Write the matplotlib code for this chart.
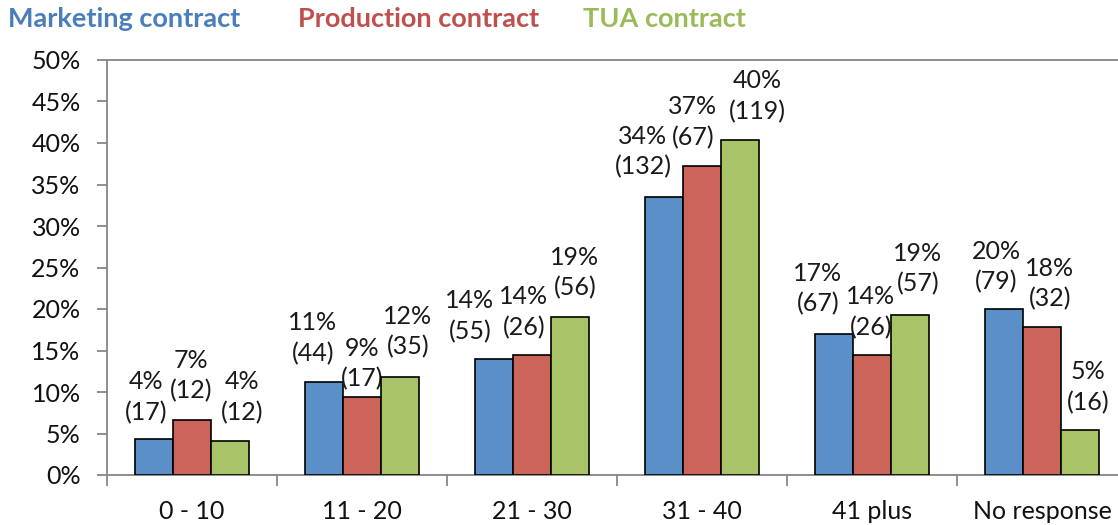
"""
Age distribution of respondents by contract type: grouped bars with
percentage and count labels.
"""

import numpy as np
import matplotlib.pyplot as plt
from matplotlib.ticker import FuncFormatter, FixedLocator

plt.rcParams['font.family'] = ['Lato', 'DejaVu Sans']

age_groups = ['0 - 10', '11 - 20', '21 - 30', '31 - 40', '41 plus', 'No response']
series_names = ['Marketing contract', 'Production contract', 'TUA contract']

# respondent counts per age group
marketing_counts = [17, 44, 55, 132, 67, 79]
production_counts = [12, 17, 26, 67, 26, 32]
tua_counts = [12, 35, 56, 119, 57, 16]

bar_colors = ['#5B8FC7', '#CB6459', '#A9C368']
title_colors = ['#4A7EBB', '#C0504D', '#9BBB59']

# hand-placed label nudges (pixels): x shift from bar centre, rise of the
# count line above the bar top
label_dx = [
    [-8, -11, -24, -21, -16, -8],
    [-1, 0, -8, -9, -1, 8],
    [12, 8, 5, 17, 8, 8],
]
label_rise = [
    [26, 28, 27, 29, 29, 26],
    [28, 17, 27, 28, 27, 28],
    [28, 29, 29, 28, 30, 27],
]

W, H, DPI = 1118, 525, 100
px = 72 / DPI  # points per pixel

fig = plt.figure(figsize=(W / DPI, H / DPI), dpi=DPI)
ax = fig.add_axes([107 / W, 50 / H, (1127 - 107) / W, (475 - 60) / H])

x = np.arange(len(age_groups))
bw = 0.2235
axis_gray = '#868686'

all_counts = [marketing_counts, production_counts, tua_counts]
for i, counts in enumerate(all_counts):
    counts = np.array(counts)
    pct = counts / counts.sum() * 100
    xs = x + (i - 1) * bw
    ax.bar(xs, pct, width=bw, color=bar_colors[i], edgecolor='black',
           linewidth=1.2, zorder=3)
    for j in range(len(age_groups)):
        label = f"{pct[j]:.0f}%\n({counts[j]})"
        ax.annotate(label, (xs[j], pct[j]),
                    xytext=(label_dx[i][j] * px, (label_rise[i][j] + 16) * px),
                    textcoords='offset points', ha='center', va='center',
                    fontsize=18, color='#1a1a1a', linespacing=1.38)

ax.set_xlim(-0.5, len(age_groups) - 0.5)
ax.set_ylim(0, 50)

ax.yaxis.set_major_locator(FixedLocator(np.arange(0, 51, 5)))
ax.yaxis.set_major_formatter(FuncFormatter(lambda v, _: f"{v:.0f}%"))
ax.tick_params(axis='y', direction='out', length=7, width=1.3,
               color=axis_gray, labelsize=18, pad=12, labelcolor='#111111')

ax.set_xticks(x)
ax.set_xticklabels(age_groups)
ax.set_xticks(np.arange(-0.5, len(age_groups)), minor=True)
ax.tick_params(axis='x', which='major', length=0, labelsize=18, pad=18,
               labelcolor='#111111')
ax.tick_params(axis='x', which='minor', direction='out', length=8, width=1.3,
               color=axis_gray)

for side in ['left', 'bottom', 'top']:
    ax.spines[side].set_color(axis_gray)
    ax.spines[side].set_linewidth(1.3)
ax.spines['right'].set_visible(False)

# coloured series titles across the top act as the legend
title_x = [8, 298, 583]
for name, color, tx in zip(series_names, title_colors, title_x):
    fig.text(tx / W, 1 - 19 / H, name, color=color, fontsize=19.5,
             fontweight='bold', ha='left', va='center')

fig.savefig('out.png', dpi=DPI)
